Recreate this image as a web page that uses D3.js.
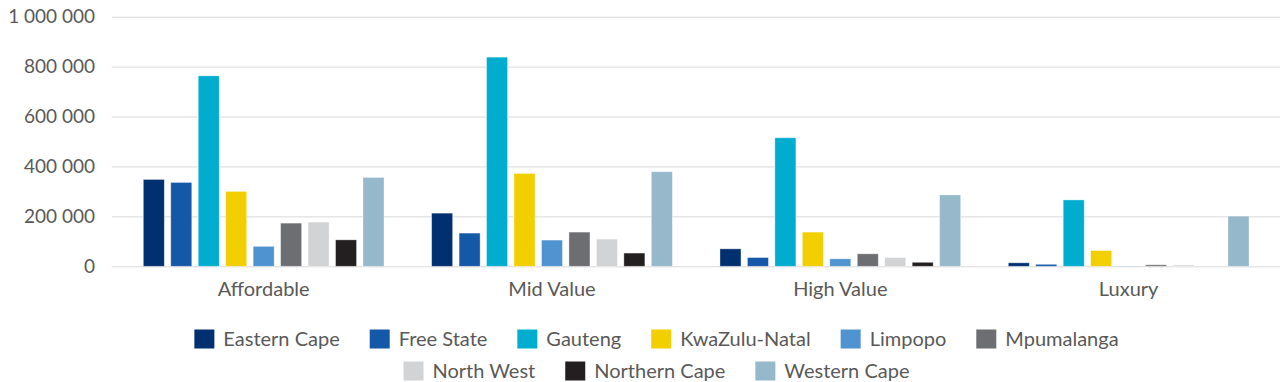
<!DOCTYPE html>
<html>
<head>
<meta charset="utf-8">
<script src="https://cdn.jsdelivr.net/npm/d3@7"></script>
<style>
  html, body { margin: 0; padding: 0; background: #fff; }
  svg { display: block; }
  text { font-family: Lato, "Noto Sans", sans-serif; fill: #595959; }
</style>
</head>
<body>
<svg id="chart" width="1280" height="382"></svg>
<script>
const categories = ["Affordable", "Mid Value", "High Value", "Luxury"];
const provinces = ["Eastern Cape", "Free State", "Gauteng", "KwaZulu-Natal", "Limpopo",
                   "Mpumalanga", "North West", "Northern Cape", "Western Cape"];
const colors = ["#003070", "#1558a8", "#00adcf", "#f2cf00", "#4f94d0",
                "#6d6e71", "#d2d3d5", "#231f20", "#96b8cb"];
// values per province, in category order
const easternCape  = [348000, 213000, 70000, 14000];
const freeState    = [336000, 133000, 35000, 8000];
const gauteng      = [763000, 838000, 515000, 266000];
const kwaZuluNatal = [300000, 372000, 137000, 63000];
const limpopo      = [80000, 105000, 30000, 1000];
const mpumalanga   = [173000, 137000, 50000, 6000];
const northWest    = [177000, 109000, 35000, 5000];
const northernCape = [106000, 53000, 16000, 0];
const westernCape  = [356000, 379000, 286000, 201000];
const yTicks = [0, 200000, 400000, 600000, 800000, 1000000];

const series = [easternCape, freeState, gauteng, kwaZuluNatal, limpopo,
                mpumalanga, northWest, northernCape, westernCape];

const svg = d3.select("#chart");

const y = d3.scaleLinear().domain([0, 1000000]).range([266.3, 16.7]);
const x0 = d3.scaleBand().domain(categories).range([119.5, 1272.8]).padding(0);
const x1 = d3.scaleBand().domain(provinces).range([0, x0.bandwidth()])
  .paddingInner(0.235).paddingOuter(0.867);
const color = d3.scaleOrdinal().domain(provinces).range(colors);

const loc = d3.formatLocale({ decimal: ".", thousands: " ", grouping: [3], currency: ["", ""] });
const fmt = loc.format(",d");

// gridlines + y labels
const yAxis = d3.axisLeft(y).tickValues(yTicks).tickSize(-(1280 - 112)).tickFormat(fmt).tickPadding(17);
const gy = svg.append("g").attr("transform", "translate(112,0)").call(yAxis);
gy.select(".domain").remove();
gy.selectAll(".tick line").attr("stroke", "#d9d9d9").attr("stroke-width", 1);
gy.selectAll(".tick text").attr("font-size", 19).attr("fill", "#595959")
  .style("font-family", "Lato, 'Noto Sans', sans-serif");

// bars
const groups = svg.append("g").selectAll("g").data(categories).join("g")
  .attr("transform", d => `translate(${x0(d)},0)`);
groups.selectAll("rect")
  .data((c, ci) => provinces.map((p, pi) => ({ p, v: series[pi][ci] })))
  .join("rect")
  .attr("x", d => x1(d.p))
  .attr("width", x1.bandwidth())
  .attr("y", d => y(d.v))
  .attr("height", d => y(0) - y(d.v))
  .attr("fill", d => color(d.p))
  .attr("stroke", "#ffffff").attr("stroke-opacity", 0.45).attr("stroke-width", 0.8);

// x labels
const xAxis = d3.axisBottom(x0).tickSize(0).tickPadding(16);
const gx = svg.append("g").attr("transform", "translate(0,266.3)").call(xAxis);
gx.select(".domain").remove();
gx.selectAll(".tick text").attr("font-size", 20).attr("fill", "#595959")
  .style("font-family", "Lato, 'Noto Sans', sans-serif");

// legend
const rows = [provinces.slice(0, 6), provinces.slice(6)];
const rowY = [339, 371];
const legendCenter = 656.5;
const sw = 20, sh = 19, gapText = 9, gapItem = 30;
rows.forEach((row, ri) => {
  const g = svg.append("g");
  let cx = 0;
  row.forEach(p => {
    const it = g.append("g").attr("transform", `translate(${cx},0)`);
    it.append("rect").attr("x", 0).attr("y", rowY[ri] - sh / 2).attr("width", sw).attr("height", sh)
      .attr("fill", color(p));
    const t = it.append("text").attr("x", sw + gapText).attr("y", rowY[ri]).attr("dy", "0.35em")
      .attr("font-size", 20).text(p);
    cx += sw + gapText + t.node().getComputedTextLength() + gapItem;
  });
  const total = cx - gapItem;
  g.attr("transform", `translate(${legendCenter - total / 2},0)`);
});
</script>
</body>
</html>
